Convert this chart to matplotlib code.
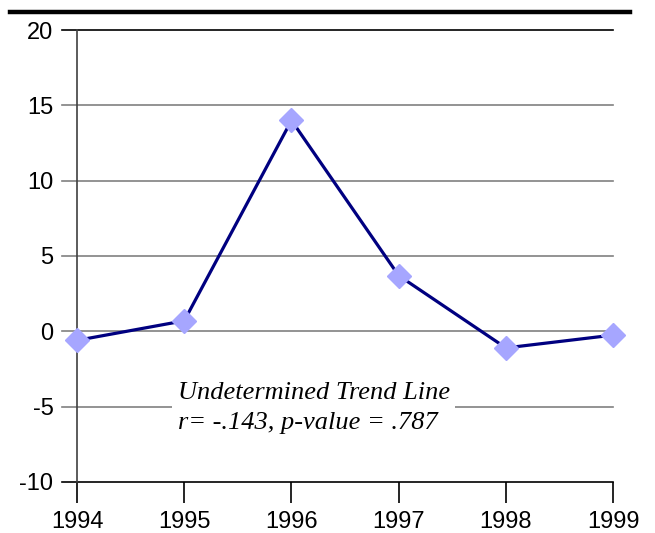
import matplotlib.pyplot as plt
from matplotlib.lines import Line2D

anos = [1994, 1995, 1996, 1997, 1998, 1999]
valores = [-0.6, 0.7, 14.0, 3.7, -1.1, -0.25]
y_ticks = [-10, -5, 0, 5, 10, 15, 20]

plt.rcParams['axes.unicode_minus'] = False

fig = plt.figure(figsize=(6.55, 5.33), dpi=100)
ax = fig.add_axes([0.1176, 0.0957, 0.8185, 0.848])

ax.set_xlim(anos[0], anos[-1])
ax.set_ylim(-10, 20)
ax.set_yticks(y_ticks)
ax.set_xticks(anos)

# gridlines drawn from the tick area out to the last year
for t in y_ticks:
    cor = 'black' if t in (-10, 20) else '#808080'
    ax.plot([-0.028, 1], [t, t], color=cor, lw=1.2, transform=ax.get_yaxis_transform(),
            clip_on=False, zorder=1)

ax.plot(anos, valores, color='#000080', lw=2.3, marker='D', markersize=12,
        markerfacecolor='#A6A6FF', markeredgecolor='#A6A6FF', zorder=3, clip_on=False)

for s in ['top', 'right', 'bottom']:
    ax.spines[s].set_visible(False)
ax.spines['left'].set_color('#404040')
ax.spines['left'].set_linewidth(1.2)

ax.tick_params(axis='y', length=0, pad=17, labelsize=17)
ax.tick_params(axis='x', length=15, width=1.2, color='black', pad=6, labelsize=17)
for lbl in ax.get_xticklabels() + ax.get_yticklabels():
    lbl.set_family('Liberation Sans')

ax.text(1994.94, -5.1, 'Undetermined Trend Line\nr= -.143, p-value = .787',
        fontsize=19, family='Liberation Serif', style='italic', va='center', ha='left',
        linespacing=1.45, zorder=4,
        bbox=dict(facecolor='white', edgecolor='none', pad=4))

fig.add_artist(Line2D([0.015, 0.962], [0.977, 0.977], color='black', lw=3.2))

fig.savefig('out.png', dpi=100)
